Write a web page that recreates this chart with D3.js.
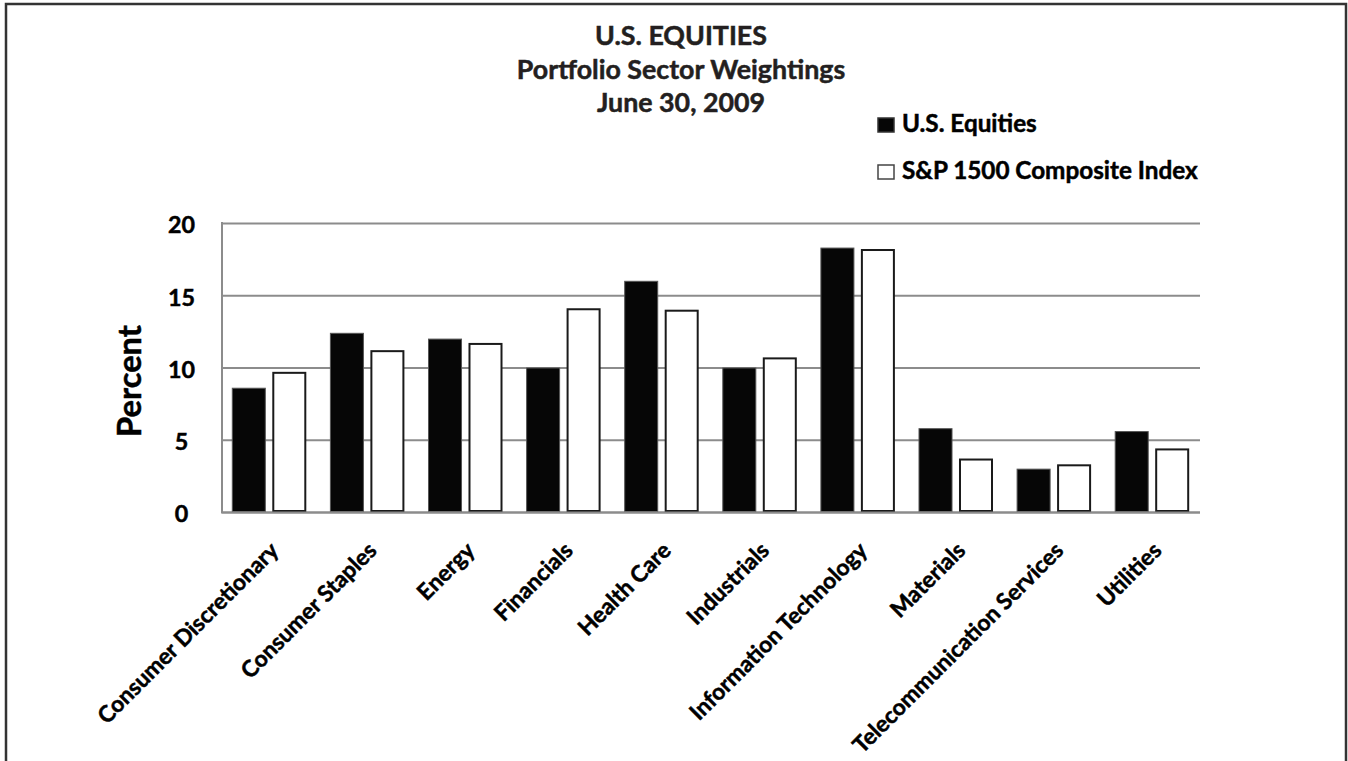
<!DOCTYPE html>
<html><head><meta charset="utf-8">
<script src="https://cdn.jsdelivr.net/npm/d3@7"></script>
<style>
body{margin:0;background:#fff}
svg{display:block}
text{font-family:Lato,"Open Sans",sans-serif;font-weight:700;stroke-width:0.5px;paint-order:stroke}
</style>
</head><body>
<svg id="c" width="1348" height="761"></svg>
<script>
const categories = ["Consumer Discretionary","Consumer Staples","Energy","Financials","Health Care","Industrials","Information Technology","Materials","Telecommunication Services","Utilities"];
const seriesNames = ["U.S. Equities","S&P 1500 Composite Index"];
const usEquities = [8.6,12.4,12.0,10.0,16.0,10.0,18.3,5.8,3.0,5.6];
const sp1500 = [9.7,11.2,11.7,14.1,14.0,10.7,18.2,3.7,3.3,4.4];
const yTicks = [0,5,10,15,20];
const titleLines = ["U.S. EQUITIES","Portfolio Sector Weightings","June 30, 2009"];
const yLabel = "Percent";

const svg = d3.select("#c");
const plot = {left:222, right:1200, top:223, bottom:512};

function fit(sel, target, base){
  base = base || 20;
  sel.attr("font-size", base);
  const w = sel.node().getComputedTextLength();
  const fs = base*target/w;
  sel.attr("font-size", fs);
  return fs;
}

// frame
svg.append("rect").attr("x",6).attr("y",4).attr("width",1340).attr("height",800)
  .attr("fill","none").attr("stroke","#333").attr("stroke-width",2.5);

const x0 = d3.scaleBand().domain(categories).range([220,1201]);
const x1 = d3.scaleBand().domain(seriesNames).range([11.8, 86.3]).paddingInner(0.16);
const y = d3.scaleLinear().domain([0,20]).range([plot.bottom, plot.top]);

// gridlines
const grid = svg.append("g").attr("transform",`translate(${plot.left},0)`)
  .call(d3.axisLeft(y).tickValues(yTicks).tickSize(-(plot.right-plot.left)).tickFormat(""));
grid.select(".domain").remove();
grid.selectAll(".tick line").attr("stroke","#8c8c8c").attr("stroke-width",2);

// left axis line
svg.append("line").attr("x1",plot.left).attr("x2",plot.left).attr("y1",y(20)-1).attr("y2",y(0)+1)
  .attr("stroke","#8c8c8c").attr("stroke-width",2);

// bars
const rows = categories.map((c,i)=>({cat:c, vals:[{s:seriesNames[0],v:usEquities[i]},{s:seriesNames[1],v:sp1500[i]}]}));
const g = svg.append("g");
const grp = g.selectAll("g.cat").data(rows).join("g").attr("class","cat")
  .attr("transform",d=>`translate(${x0(d.cat)},0)`);
grp.selectAll("rect").data(d=>d.vals).join("rect")
  .attr("x",d=>x1(d.s) + (d.s===seriesNames[1]?1:0.5))
  .attr("width",d=>x1.bandwidth() - (d.s===seriesNames[1]?2:1))
  .attr("y",d=>y(d.v) + (d.s===seriesNames[1]?1:0.5))
  .attr("height",d=>y(0)-y(d.v) - (d.s===seriesNames[1]?2:1))
  .attr("fill",d=>d.s===seriesNames[0]?"#060606":"#fff")
  .attr("stroke",d=>d.s===seriesNames[0]?"#555":"#1a1a1a")
  .attr("stroke-width",d=>d.s===seriesNames[0]?1:2);

// baseline
svg.append("line").attr("x1",plot.left-1).attr("x2",plot.right).attr("y1",y(0)+0.5).attr("y2",y(0)+0.5)
  .attr("stroke","#8c8c8c").attr("stroke-width",2);

// y tick labels
const ya = svg.append("g").attr("transform",`translate(181.5,0)`)
  .call(d3.axisLeft(y).tickValues(yTicks).tickSize(0).tickPadding(0).tickFormat(d3.format("d")));
ya.select(".domain").remove();
const yt = ya.selectAll(".tick text").attr("text-anchor","middle").attr("x",0).attr("fill","#000").attr("stroke","#000")
  .attr("font-family","Lato").attr("font-weight",700);
const tfs = fit(ya.selectAll(".tick text").filter(d=>d===20), 27);
yt.attr("font-size",tfs).attr("dy","0.42em");

// y label
const yl = svg.append("text").text(yLabel).attr("text-anchor","middle")
  .attr("transform","translate(141,381) rotate(-90)").attr("fill","#000").attr("stroke","#000");
fit(yl, 112);

// x labels
const xa = svg.append("g").attr("transform",`translate(0,${plot.bottom})`)
  .call(d3.axisBottom(x0).tickSize(0).tickPadding(0));
xa.select(".domain").remove();
const xt = xa.selectAll(".tick text").attr("fill","#000").attr("stroke","#000").attr("font-family","Lato").attr("font-weight",700)
  .attr("text-anchor","end").attr("dy",0).attr("y",0)
  .attr("transform","translate(11,40) rotate(-45)");
const xfs = fit(xa.selectAll(".tick text").filter(d=>d===categories[0]), 245);
xt.attr("font-size",xfs);

// title
const tl = svg.append("g");
const tBase = [45,79,112];
const tt = tl.selectAll("text").data(titleLines).join("text")
  .attr("x",681).attr("y",(d,i)=>tBase[i]).attr("text-anchor","middle").attr("fill","#231f20").attr("stroke","#231f20").text(d=>d);
const tfs2 = fit(tt.filter((d,i)=>i===0), 172);
tt.attr("font-size",tfs2);

// legend
const lg = svg.append("g");
const legY = [118,165];
lg.selectAll("rect").data(seriesNames).join("rect")
  .attr("x",878).attr("y",(d,i)=>legY[i]).attr("width",16).attr("height",14)
  .attr("fill",(d,i)=>i===0?"#060606":"#fff").attr("stroke",(d,i)=>i===0?"#333":"#444").attr("stroke-width",1.5);
const lt = lg.selectAll("text").data(seriesNames).join("text")
  .attr("x",902).attr("y",(d,i)=>legY[i]+14).attr("fill","#000").attr("stroke","#000").text(d=>d);
const lfs = fit(lt.filter((d,i)=>i===1), 296);
lt.attr("font-size",lfs);
</script>
</body></html>
